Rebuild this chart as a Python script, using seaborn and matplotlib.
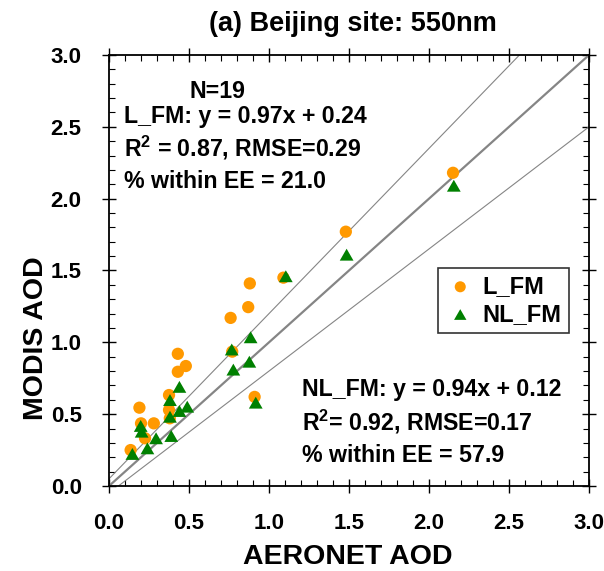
import matplotlib
matplotlib.use("Agg")
import matplotlib.pyplot as plt
import seaborn as sns
import numpy as np
import pandas as pd

# ---- data ----
lfm_aeronet = [2.15, 1.48, 1.09, 0.88, 0.87, 0.76, 0.77, 0.91, 0.43, 0.48, 0.43,
               0.375, 0.375, 0.38, 0.19, 0.20, 0.28, 0.225, 0.135]
lfm_modis = [2.18, 1.77, 1.45, 1.41, 1.245, 1.17, 0.935, 0.62, 0.92, 0.835, 0.795,
             0.633, 0.529, 0.471, 0.545, 0.436, 0.436, 0.332, 0.25]
nlfm_aeronet = [2.155, 1.485, 1.105, 0.885, 0.877, 0.777, 0.767, 0.917, 0.44, 0.489,
                0.44, 0.381, 0.381, 0.389, 0.198, 0.204, 0.294, 0.24, 0.146]
nlfm_modis = [2.09, 1.61, 1.46, 1.035, 0.865, 0.81, 0.95, 0.58, 0.69, 0.552, 0.522,
              0.598, 0.482, 0.348, 0.418, 0.378, 0.332, 0.262, 0.223]

series_names = ["L_FM", "NL_FM"]
ticks = [0.0, 0.5, 1.0, 1.5, 2.0, 2.5, 3.0]
tick_labels = ["0.0", "0.5", "1.0", "1.5", "2.0", "2.5", "3.0"]

df = pd.DataFrame({
    "AERONET": lfm_aeronet + nlfm_aeronet,
    "MODIS": lfm_modis + nlfm_modis,
    "series": [series_names[0]] * len(lfm_aeronet) + [series_names[1]] * len(nlfm_aeronet),
})

sns.set_style("white")
plt.rcParams["font.family"] = ["Liberation Sans", "DejaVu Sans"]
plt.rcParams["font.weight"] = "bold"
plt.rcParams["text.color"] = "black"
plt.rcParams["axes.labelcolor"] = "black"
plt.rcParams["xtick.color"] = "black"
plt.rcParams["ytick.color"] = "black"
plt.rcParams["mathtext.fontset"] = "custom"
plt.rcParams["mathtext.rm"] = "Liberation Sans:bold"
plt.rcParams["mathtext.bf"] = "Liberation Sans:bold"

fig = plt.figure(figsize=(6.04, 5.71), dpi=100)
ax = fig.add_axes([0.1805, 0.1489, 0.7947, 0.7548])

# reference lines: 1:1 and expected error envelopes
xx = np.array([0.0, 3.0])
ax.plot(xx, xx, color="#858585", lw=1.6, zorder=1)
ax.plot(xx, 1.15 * xx + 0.05, color="#858585", lw=0.8, zorder=1)
ax.plot(xx, 0.85 * xx - 0.05, color="#858585", lw=0.8, zorder=1)

tri = [(-1, -0.866), (1, -0.866), (0, 0.866), (-1, -0.866)]
sns.scatterplot(data=df[df.series == "L_FM"], x="AERONET", y="MODIS", ax=ax,
                color="#FF9900", marker="o", s=78, edgecolor="none",
                label="L_FM", zorder=3)
sns.scatterplot(data=df[df.series == "NL_FM"], x="AERONET", y="MODIS", ax=ax,
                color="#008000", marker=tri, s=98, edgecolor="none",
                label="NL_FM", zorder=4)

ax.set_xlim(0, 3)
ax.set_ylim(0, 3)
ax.set_xticks(ticks)
ax.set_yticks(ticks)
ax.set_xticklabels(tick_labels, fontsize=16, fontweight="bold", color="black")
ax.set_yticklabels(tick_labels, fontsize=16, fontweight="bold", color="black")
ax.set_xticks(np.arange(0, 3.001, 0.1), minor=True)
ax.set_yticks(np.arange(0, 3.001, 0.1), minor=True)
ax.tick_params(which="major", direction="inout", length=9.4, width=1.0,
               top=True, right=True, bottom=True, left=True, pad=15, color="black")
ax.tick_params(which="minor", direction="in", length=4.3, width=0.8,
               top=True, right=True, bottom=True, left=True, color="black")
for sp in ax.spines.values():
    sp.set_color("black")
    sp.set_linewidth(1.3)

xl = ax.set_xlabel("AERONET AOD", fontsize=20.5, fontweight="bold", color="black")
xl.set_va("baseline")
ax.xaxis.set_label_coords(0.497, -0.181)
yl = ax.set_ylabel("MODIS AOD", fontsize=20.5, fontweight="bold", color="black")
yl.set_va("baseline")
ax.yaxis.set_label_coords(-0.137, 0.343)
tt = ax.set_title("(a) Beijing site: 550nm", fontsize=19.5, fontweight="bold",
                  y=1.0564, pad=0, va="baseline", color="black")
tt.set_x(0.507)

fs = 16.7
kw = dict(fontsize=fs, fontweight="bold", va="baseline", color="black")
ax.text(0.506, 2.698, "N=19", **kw)
ax.text(0.094, 2.528, "L_FM: y = 0.97x + 0.24", **kw)
ax.text(0.094, 2.296, r"R$^{2}$ = 0.87, RMSE=0.29", **kw)
ax.text(0.094, 2.072, "% within EE = 21.0", **kw)

ax.text(1.205, 0.626, "NL_FM: y = 0.94x + 0.12", **kw)
ax.text(1.205, 0.390, r"R$^{2}$= 0.92, RMSE=0.17", **kw)
ax.text(1.205, 0.169, "% within EE = 57.9", **kw)

leg = ax.legend(loc="upper left", bbox_to_anchor=(0.685, 0.506), frameon=True,
                fancybox=False, edgecolor="black", fontsize=17,
                handletextpad=0.3, borderpad=0.3, labelspacing=0.2,
                handlelength=1.3, borderaxespad=0, markerscale=0.9)
leg.get_frame().set_linewidth(1.2)
for t in leg.get_texts():
    t.set_fontweight("bold")
    t.set_color("black")

fig.savefig("out.png", dpi=100)
